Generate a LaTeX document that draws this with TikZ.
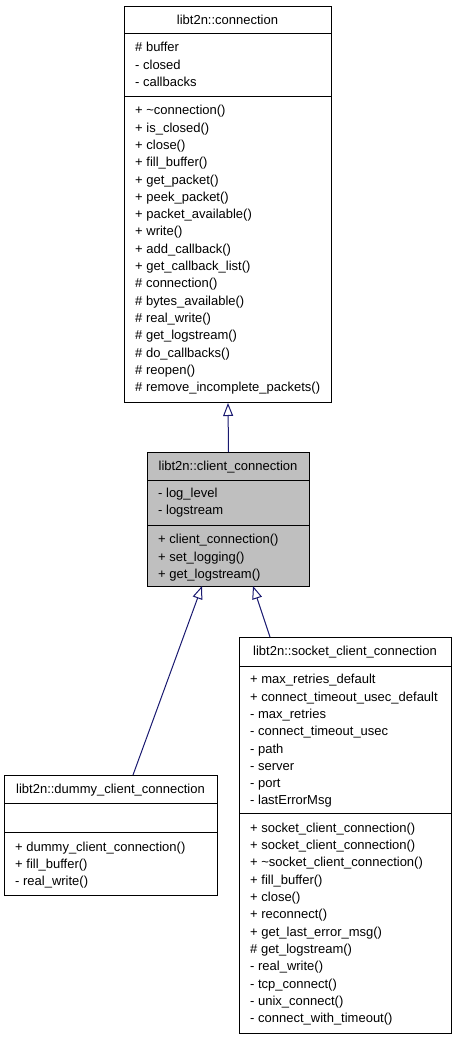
\documentclass[tikz,border=0pt]{standalone}
\usepackage{fontspec}
\setmainfont{Liberation Sans}
\usetikzlibrary{arrows.meta}
\definecolor{edgeblue}{HTML}{191970}
\definecolor{boxgray}{HTML}{BFBFBF}
\tikzset{
  classbox/.style={draw=black, line width=1pt, rectangle, inner sep=0pt, anchor=north west},
  sepline/.style={draw=black, line width=1pt},
  member/.style={anchor=west, inner sep=0pt, text height=9.5pt, text depth=2.8pt, yshift=-1.5pt},
  titletext/.style={anchor=center, inner sep=0pt, text height=9.5pt, text depth=2.8pt, yshift=-1.5pt},
  inh/.style={draw=edgeblue, line width=1pt, -{Triangle[open, length=13pt, width=10pt]}}
}
\begin{document}
\begin{tikzpicture}[x=1pt, y=-1pt, font=\fontsize{13}{15}\selectfont]
\useasboundingbox (0,0) rectangle (456,1040);

% ---------- libt2n::connection ----------
\node[classbox, fill=white, minimum width=207pt, minimum height=396pt] (conn) at (124,6) {};
\draw[sepline] (124,34) -- (331,34);
\draw[sepline] (124,97) -- (331,97);
\node[titletext] (conntitle) at (227.5,20) {libt2n::connection};
\foreach \t [count=\i] in {{\# buffer},{- closed},{- callbacks}}
  \node[member] (conna\i) at (135,{47+(\i-1)*17.3}) {\t};
\foreach \t [count=\i] in {{+ \textasciitilde connection()},{+ is\_closed()},{+ close()},{+ fill\_buffer()},{+ get\_packet()},{+ peek\_packet()},{+ packet\_available()},{+ write()},{+ add\_callback()},{+ get\_callback\_list()},{\# connection()},{\# bytes\_available()},{\# real\_write()},{\# get\_logstream()},{\# do\_callbacks()},{\# reopen()},{\# remove\_incomplete\_packets()}}
  \node[member] (connm\i) at (135,{110+(\i-1)*17.3}) {\t};

% ---------- libt2n::client_connection ----------
\node[classbox, fill=boxgray, minimum width=162pt, minimum height=134pt] (client) at (147,452) {};
\draw[sepline] (147,480) -- (309,480);
\draw[sepline] (147,525) -- (309,525);
\node[titletext] (clienttitle) at (228,466) {libt2n::client\_connection};
\foreach \t [count=\i] in {{- log\_level},{- logstream}}
  \node[member] (clienta\i) at (158,{492.5+(\i-1)*17.3}) {\t};
\foreach \t [count=\i] in {{+ client\_connection()},{+ set\_logging()},{+ get\_logstream()}}
  \node[member] (clientm\i) at (158,{539+(\i-1)*17.3}) {\t};

% ---------- libt2n::dummy_client_connection ----------
\node[classbox, fill=white, minimum width=213pt, minimum height=120pt] (dummy) at (4,775) {};
\draw[sepline] (4,803) -- (217,803);
\draw[sepline] (4,832) -- (217,832);
\node[titletext] (dummytitle) at (110.5,789) {libt2n::dummy\_client\_connection};
\foreach \t [count=\i] in {{+ dummy\_client\_connection()},{+ fill\_buffer()},{- real\_write()}}
  \node[member] (dummym\i) at (15,{846.5+(\i-1)*17.3}) {\t};

% ---------- libt2n::socket_client_connection ----------
\node[classbox, fill=white, minimum width=212pt, minimum height=396pt] (socket) at (239,637) {};
\draw[sepline] (239,666) -- (451,666);
\draw[sepline] (239,813) -- (451,813);
\node[titletext] (sockettitle) at (345,651) {libt2n::socket\_client\_connection};
\foreach \t [count=\i] in {{+ max\_retries\_default},{+ connect\_timeout\_usec\_default},{- max\_retries},{- connect\_timeout\_usec},{- path},{- server},{- port},{- lastErrorMsg}}
  \node[member] (socketa\i) at (250,{679+(\i-1)*17.3}) {\t};
\foreach \t [count=\i] in {{+ socket\_client\_connection()},{+ socket\_client\_connection()},{+ \textasciitilde socket\_client\_connection()},{+ fill\_buffer()},{+ close()},{+ reconnect()},{+ get\_last\_error\_msg()},{\# get\_logstream()},{- real\_write()},{- tcp\_connect()},{- unix\_connect()},{- connect\_with\_timeout()}}
  \node[member] (socketm\i) at (250,{827.5+(\i-1)*17.3}) {\t};

% ---------- inheritance connectors ----------
\coordinate (tipL) at (202,586);
\coordinate (tipR) at (253,586);
\coordinate (dummyTop) at (133,775);
\coordinate (socketTop) at (270,637);
\draw[inh] (client.north) -- (conn.south);
\draw[inh] (dummyTop) -- (tipL);
\draw[inh] (socketTop) -- (tipR);
\end{tikzpicture}
\end{document}
